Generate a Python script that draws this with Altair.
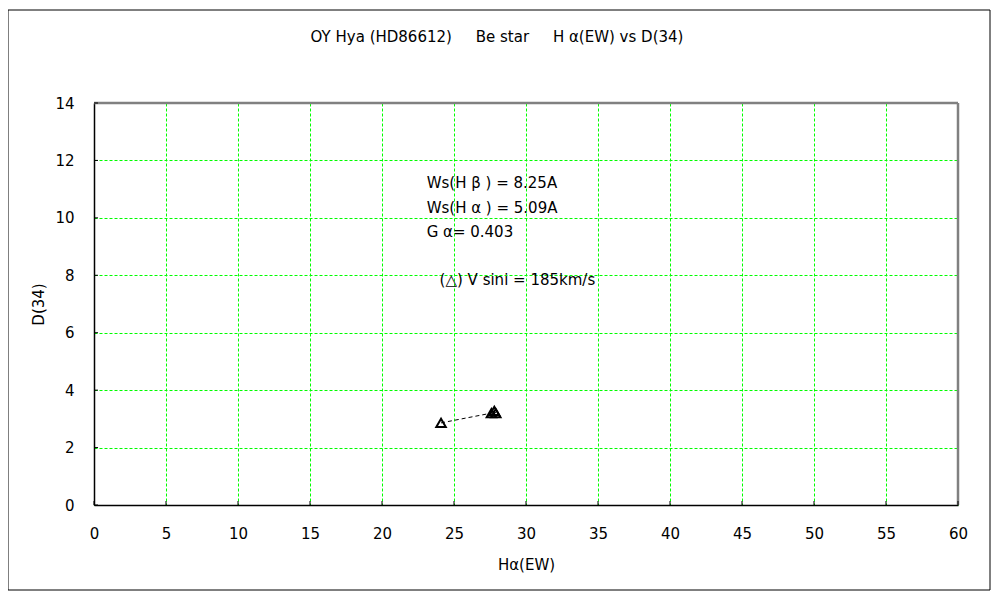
import altair as alt
import pandas as pd

# data
ha_ew = [24.1, 27.6, 27.8, 27.9]
d34 = [2.86, 3.2, 3.28, 3.2]

x_ticks = [0, 5, 10, 15, 20, 25, 30, 35, 40, 45, 50, 55, 60]
y_ticks = [0, 2, 4, 6, 8, 10, 12, 14]

NB = "\u00a0"
notes = ["Ws(H" + NB + "β" + NB + ") = 8.25A", "Ws(H" + NB + "α" + NB + ") = 5.09A",
         "G" + NB + "α= 0.403", "(△)" + NB + "V" + NB + "sini = 185km/s"]
note_x = [23.1, 23.1, 23.1, 24.0]
note_y = [11.2, 10.35, 9.5, 7.83]

title_text = ("OY" + NB + "Hya" + NB + "(HD86612)" + NB * 5 + "Be" + NB + "star"
              + NB * 5 + "H" + NB + "α(EW)" + NB + "vs" + NB + "D(34)")

FONT = "DejaVu Sans"
W, H = 864, 402

df = pd.DataFrame({"x": ha_ew, "y": d34, "order": list(range(len(ha_ew)))})
notes_df = pd.DataFrame({"t": notes, "x": note_x, "y": note_y})
xt_df = pd.DataFrame({"v": x_ticks})
yt_df = pd.DataFrame({"v": y_ticks})

xscale = alt.Scale(domain=[0, 60], nice=False, zero=False)
yscale = alt.Scale(domain=[0, 14], nice=False, zero=False)

xaxis = alt.Axis(values=x_ticks, title="Hα(EW)", grid=True, gridColor="#00FF00",
                 gridDash=[3, 2], gridWidth=1, ticks=False, domainColor="black",
                 domainWidth=1.5, labelFontSize=15, labelPadding=21, labelColor="black",
                 labelFlush=False, labelOverlap=False,
                 titleFontSize=15, titleFontWeight="normal", titlePadding=16,
                 labelFont=FONT, titleFont=FONT, titleColor="black")
yaxis = alt.Axis(values=y_ticks, title="D(34)", grid=True, gridColor="#00FF00",
                 gridDash=[3, 2], gridWidth=1, ticks=False, domainColor="black",
                 domainWidth=1.5, labelFontSize=15, labelPadding=20, labelColor="black",
                 labelFlush=False, labelOverlap=False,
                 titleFontSize=15, titleFontWeight="normal", titlePadding=8,
                 labelFont=FONT, titleFont=FONT, titleColor="black")

frame = alt.Chart(pd.DataFrame({"a": [0]})).mark_rect(
    fill="transparent", stroke="black", strokeWidth=1, clip=False
).encode(x=alt.value(-86), x2=alt.value(W + 32), y=alt.value(-93), y2=alt.value(H + 85))

top_border = alt.Chart(pd.DataFrame({"a": [0]})).mark_rule(
    color="#808080", strokeWidth=2.5).encode(x=alt.value(0), x2=alt.value(W), y=alt.value(0))
right_border = alt.Chart(pd.DataFrame({"a": [0]})).mark_rule(
    color="#808080", strokeWidth=2.5).encode(x=alt.value(W), y=alt.value(0), y2=alt.value(H))

line = alt.Chart(df).mark_line(color="black", strokeDash=[4, 3], strokeWidth=1).encode(
    x=alt.X("x:Q", scale=xscale, axis=xaxis),
    y=alt.Y("y:Q", scale=yscale, axis=yaxis),
    order="order:Q",
)

pts = alt.Chart(df).mark_point(shape="triangle-up", size=90, filled=False,
                               color="black", strokeWidth=2, opacity=1).encode(
    x=alt.X("x:Q", scale=xscale),
    y=alt.Y("y:Q", scale=yscale),
)

xt = alt.Chart(xt_df).mark_rule(color="black", strokeWidth=1).encode(
    x=alt.X("v:Q", scale=xscale), y=alt.value(H), y2=alt.value(H - 4))
yt = alt.Chart(yt_df).mark_rule(color="black", strokeWidth=1).encode(
    y=alt.Y("v:Q", scale=yscale), x=alt.value(0), x2=alt.value(4))

txt = alt.Chart(notes_df).mark_text(align="left", baseline="middle", font=FONT,
                                    fontSize=15, color="black").encode(
    x=alt.X("x:Q", scale=xscale), y=alt.Y("y:Q", scale=yscale), text="t:N")

ttl = alt.Chart(pd.DataFrame({"t": [title_text]})).mark_text(
    align="center", baseline="middle", font=FONT, fontSize=15, color="black", clip=False
).encode(x=alt.value(403), y=alt.value(-66), text="t:N")

chart = alt.layer(top_border, right_border, line, pts, xt, yt, txt, ttl, frame).properties(
    width=W, height=H,
    autosize=alt.AutoSizeParams(type="none"),
    padding={"left": 86, "top": 95, "right": 34, "bottom": 87},
).configure_view(stroke="#808080", strokeWidth=2).configure(background="white")

chart.save("out.html", embed_options={"renderer": "svg", "actions": False})
